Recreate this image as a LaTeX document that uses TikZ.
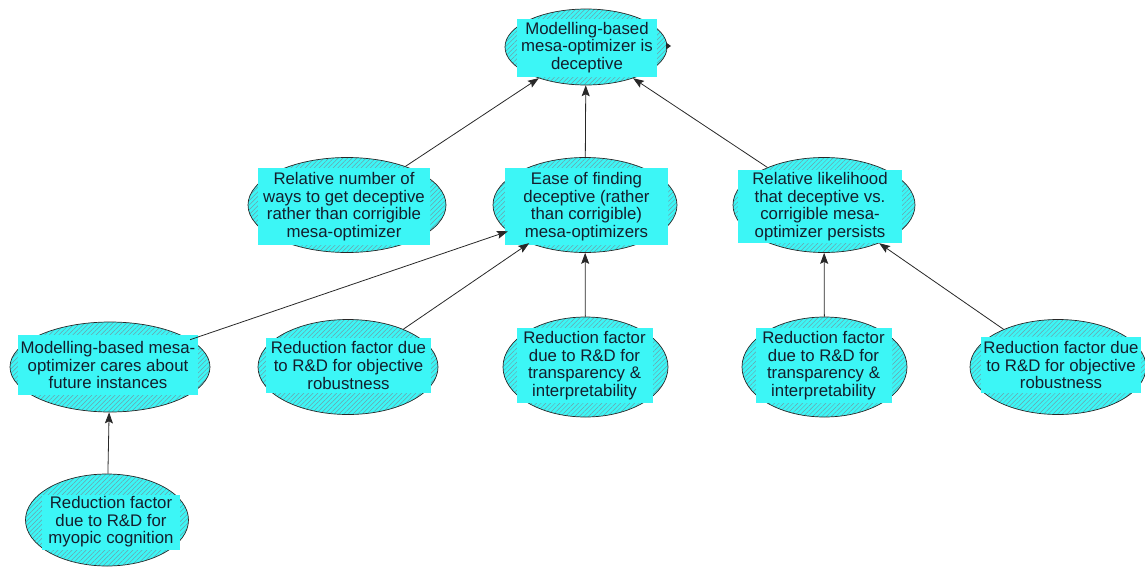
\documentclass[tikz,border=0pt]{standalone}
\usepackage{fontspec}
\setmainfont{Liberation Sans}
\usetikzlibrary{shapes.geometric,patterns.meta,arrows.meta}
\definecolor{cy}{RGB}{60,246,246}
\definecolor{hatch}{RGB}{110,160,170}
\definecolor{edge}{RGB}{40,40,40}
\definecolor{txt}{RGB}{20,30,45}
\begin{document}
\begin{tikzpicture}[x=1pt,y=-1pt,
  ell/.style 2 args={ellipse, draw=edge, line width=0.7pt, preaction={fill=cy},
    pattern={Lines[angle=45,distance=3.3pt,line width=0.5pt]}, pattern color=hatch,
    minimum width=#1pt, minimum height=#2pt, inner sep=0pt},
  lbl/.style 2 args={rectangle, fill=cy, text=txt, align=center,
    minimum width=#1pt, minimum height=#2pt, inner sep=0pt,
    font=\fontsize{16.8}{17.6}\selectfont},
  arr/.style={draw=edge, line width=0.8pt, -{Stealth[length=11pt,width=8pt,inset=2pt]}}]
\useasboundingbox (0,0) rectangle (1145,571);

% ellipses
\node[ell={162}{76}] (top) at (586,47) {};
\node[ell={198}{95}] (relnum) at (347,205) {};
\node[ell={184}{95}] (ease) at (585,205) {};
\node[ell={182}{95}] (rellik) at (824,205) {};
\node[ell={200}{90}] (cares) at (110,367) {};
\node[ell={180}{95}] (objL) at (348,367) {};
\node[ell={165}{100}] (trM) at (585.5,367) {};
\node[ell={165}{100}] (trR) at (824.5,367) {};
\node[ell={176}{95}] (objR) at (1058,367) {};
\node[ell={163}{92}] (myo) at (107,520) {};

% labels
\node[lbl={140}{58}] (top-t) at (587,47.5) {Modelling-based\\mesa-optimizer is\\deceptive};
\node[lbl={172}{77}] (relnum-t) at (344,206.5) {Relative number of\\ways to get deceptive\\rather than corrigible\\mesa-optimizer};
\node[lbl={163}{77}] (ease-t) at (586.5,206.5) {Ease of finding\\deceptive (rather\\than corrigible)\\mesa-optimizers};
\node[lbl={164}{73}] (rellik-t) at (820,206.5) {Relative likelihood\\that deceptive vs.\\corrigible mesa-\\optimizer persists};
\node[lbl={180}{60}] (cares-t) at (108,365) {Modelling-based mesa-\\optimizer cares about\\future instances};
\node[lbl={165}{55}] (objL-t) at (348.5,365.5) {Reduction factor due\\to R\&D for objective\\robustness};
\node[lbl={136}{75}] (trM-t) at (584.5,365.5) {Reduction factor\\due to R\&D for\\transparency \&\\interpretability};
\node[lbl={136}{75}] (trR-t) at (823.5,365.5) {Reduction factor\\due to R\&D for\\transparency \&\\interpretability};
\node[lbl={160}{56}] (objR-t) at (1061,365) {Reduction factor due\\to R\&D for objective\\robustness};
\node[lbl={138}{55}] (myo-t) at (111,522) {Reduction factor\\due to R\&D for\\myopic cognition};

% connectors
\draw[arr] (relnum) -- (top);
\draw[arr] (ease) -- (top);
\draw[arr] (rellik) -- (top);
\draw[arr] (cares) -- (ease);
\draw[arr] (objL) -- (ease);
\draw[arr] (trM) -- (ease);
\draw[arr] (trR) -- (rellik);
\draw[arr] (objR) -- (rellik);
\draw[arr] (myo) -- (cares);

% stray arrowhead
\fill[edge] (666,42.5) -- (671,46) -- (666,49.5) -- cycle;
\end{tikzpicture}
\end{document}
